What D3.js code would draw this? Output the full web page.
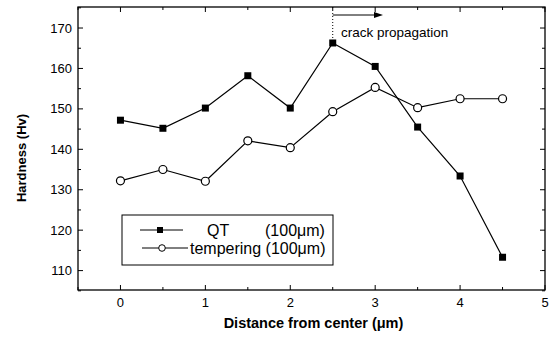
<!DOCTYPE html>
<meta charset="utf-8">
<title>Hardness</title>
<body>
<script src="https://cdn.jsdelivr.net/npm/d3@7"></script>
<style>
html, body {
    margin: 0;
    background: #fff;
}
svg {
    display: block;
    font-family: "Liberation Sans", Arial, sans-serif;
}
</style>
<script>
var distance = [0, 0.5, 1, 1.5, 2, 2.5, 3, 3.5, 4, 4.5];
var qt = [147.2, 145.2, 150.2, 158.2, 150.2, 166.3, 160.5, 145.5, 133.4, 113.3];
var tempering = [132.2, 135, 132.1, 142.1, 140.4, 149.3, 155.3, 150.3, 152.5, 152.5];
var xTicks = [0, 1, 2, 3, 4, 5];
var yTicks = [110, 120, 130, 140, 150, 160, 170];
var legendLabels = ["QT", "tempering"];
var legendUnits = ["(100\u03bcm)", "(100\u03bcm)"];

var width = 550,
    height = 340,
    pLeft = 78,
    pRight = 545,
    pTop = 7,
    pBottom = 290;

var svg = d3.select("body").append("svg")
    .attr("width", width)
    .attr("height", height);

var x = d3.scaleLinear().domain([-0.5, 5]).range([pLeft, pRight]);
var y = d3.scaleLinear().domain([105.2, 175.2]).range([pBottom, pTop]);

// frame
svg.append("rect")
    .attr("x", pLeft).attr("y", pTop)
    .attr("width", pRight - pLeft).attr("height", pBottom - pTop)
    .attr("fill", "none").attr("stroke", "#000").attr("stroke-width", 1.3);

// inward ticks on all sides
var xMinor = d3.range(-0.5, 5.01, 0.5).filter(function(d) { return !xTicks.includes(d); });
var yMinor = d3.range(105, 175.1, 5).filter(function(d) { return !yTicks.includes(d); });

function tickLines(sel, data, fn) {
    sel.selectAll(null).data(data).enter().append("line")
        .each(fn)
        .attr("stroke", "#000").attr("stroke-width", 1);
}
var ticks = svg.append("g");
tickLines(ticks, xTicks, function(d) {
    d3.select(this).attr("x1", x(d)).attr("x2", x(d)).attr("y1", pBottom).attr("y2", pBottom - 5);
});
tickLines(ticks, xMinor, function(d) {
    d3.select(this).attr("x1", x(d)).attr("x2", x(d)).attr("y1", pBottom).attr("y2", pBottom - 3);
});
tickLines(ticks, xTicks, function(d) {
    d3.select(this).attr("x1", x(d)).attr("x2", x(d)).attr("y1", pTop).attr("y2", pTop + 5);
});
tickLines(ticks, xMinor, function(d) {
    d3.select(this).attr("x1", x(d)).attr("x2", x(d)).attr("y1", pTop).attr("y2", pTop + 3);
});
tickLines(ticks, yTicks, function(d) {
    d3.select(this).attr("x1", pLeft).attr("x2", pLeft + 5).attr("y1", y(d)).attr("y2", y(d));
});
tickLines(ticks, yMinor, function(d) {
    d3.select(this).attr("x1", pLeft).attr("x2", pLeft + 3).attr("y1", y(d)).attr("y2", y(d));
});
tickLines(ticks, yTicks, function(d) {
    d3.select(this).attr("x1", pRight).attr("x2", pRight - 5).attr("y1", y(d)).attr("y2", y(d));
});
tickLines(ticks, yMinor, function(d) {
    d3.select(this).attr("x1", pRight).attr("x2", pRight - 3).attr("y1", y(d)).attr("y2", y(d));
});

// tick labels
svg.append("g").selectAll("text").data(xTicks).enter().append("text")
    .attr("x", function(d) { return x(d); })
    .attr("y", 307)
    .attr("text-anchor", "middle")
    .attr("font-size", 13)
    .text(function(d) { return d; });

svg.append("g").selectAll("text").data(yTicks).enter().append("text")
    .attr("x", pLeft - 6)
    .attr("y", function(d) { return y(d) + 4.5; })
    .attr("text-anchor", "end")
    .attr("font-size", 13)
    .text(function(d) { return d; });

// axis titles
svg.append("text")
    .attr("x", (pLeft + pRight) / 2 + 2)
    .attr("y", 328)
    .attr("text-anchor", "middle")
    .attr("font-size", 14.5)
    .attr("font-weight", "bold")
    .text("Distance from center (\u03bcm)");

svg.append("text")
    .attr("transform", "translate(26,158) rotate(-90)")
    .attr("text-anchor", "middle")
    .attr("font-size", 13)
    .attr("font-weight", "bold")
    .text("Hardness (Hv)");

// series
var line = d3.line()
    .x(function(d) { return x(d[0]); })
    .y(function(d) { return y(d[1]); });

var qtData = d3.zip(distance, qt);
var tempData = d3.zip(distance, tempering);

svg.append("path").datum(qtData)
    .attr("d", line).attr("fill", "none").attr("stroke", "#000").attr("stroke-width", 1.2);
svg.append("path").datum(tempData)
    .attr("d", line).attr("fill", "none").attr("stroke", "#000").attr("stroke-width", 1.2);

svg.append("g").selectAll("rect").data(qtData).enter().append("rect")
    .attr("x", function(d) { return x(d[0]) - 3.5; })
    .attr("y", function(d) { return y(d[1]) - 3.5; })
    .attr("width", 7).attr("height", 7)
    .attr("fill", "#000");

svg.append("g").selectAll("circle").data(tempData).enter().append("circle")
    .attr("cx", function(d) { return x(d[0]); })
    .attr("cy", function(d) { return y(d[1]); })
    .attr("r", 4)
    .attr("fill", "#fff").attr("stroke", "#000").attr("stroke-width", 1.2);

// crack propagation annotation
var xa = x(2.5);
svg.append("line")
    .attr("x1", xa).attr("x2", xa).attr("y1", pTop).attr("y2", y(166.3) - 4)
    .attr("stroke", "#000").attr("stroke-dasharray", "1,2");
svg.append("line")
    .attr("x1", xa).attr("x2", 376).attr("y1", 15).attr("y2", 15)
    .attr("stroke", "#000").attr("stroke-width", 1);
svg.append("path")
    .attr("d", "M383,15L374,12L374,18Z")
    .attr("fill", "#000");
svg.append("text")
    .attr("x", 341).attr("y", 37)
    .attr("font-size", 13.5)
    .text("crack propagation");

// legend
var lg = svg.append("g");
lg.append("rect")
    .attr("x", 122).attr("y", 215).attr("width", 211).attr("height", 50)
    .attr("fill", "#fff").attr("stroke", "#000").attr("stroke-width", 1);

var rowY = [230, 248];
lg.append("line")
    .attr("x1", 140).attr("x2", 183).attr("y1", rowY[0]).attr("y2", rowY[0])
    .attr("stroke", "#000").attr("stroke-width", 1);
lg.append("line")
    .attr("x1", 142).attr("x2", 188).attr("y1", rowY[1]).attr("y2", rowY[1])
    .attr("stroke", "#000").attr("stroke-width", 1);
lg.append("rect")
    .attr("x", 160 - 3).attr("y", rowY[0] - 3).attr("width", 6).attr("height", 6)
    .attr("fill", "#000");
lg.append("circle")
    .attr("cx", 162).attr("cy", rowY[1]).attr("r", 3.3)
    .attr("fill", "#fff").attr("stroke", "#000").attr("stroke-width", 1);

lg.append("text")
    .attr("x", 207).attr("y", 236)
    .attr("font-size", 16)
    .text(legendLabels[0]);
lg.append("text")
    .attr("x", 265).attr("y", 236)
    .attr("font-size", 16)
    .text(legendUnits[0]);
lg.append("text")
    .attr("x", 190).attr("y", 254)
    .attr("font-size", 16)
    .text(legendLabels[1] + " " + legendUnits[1]);
</script>
